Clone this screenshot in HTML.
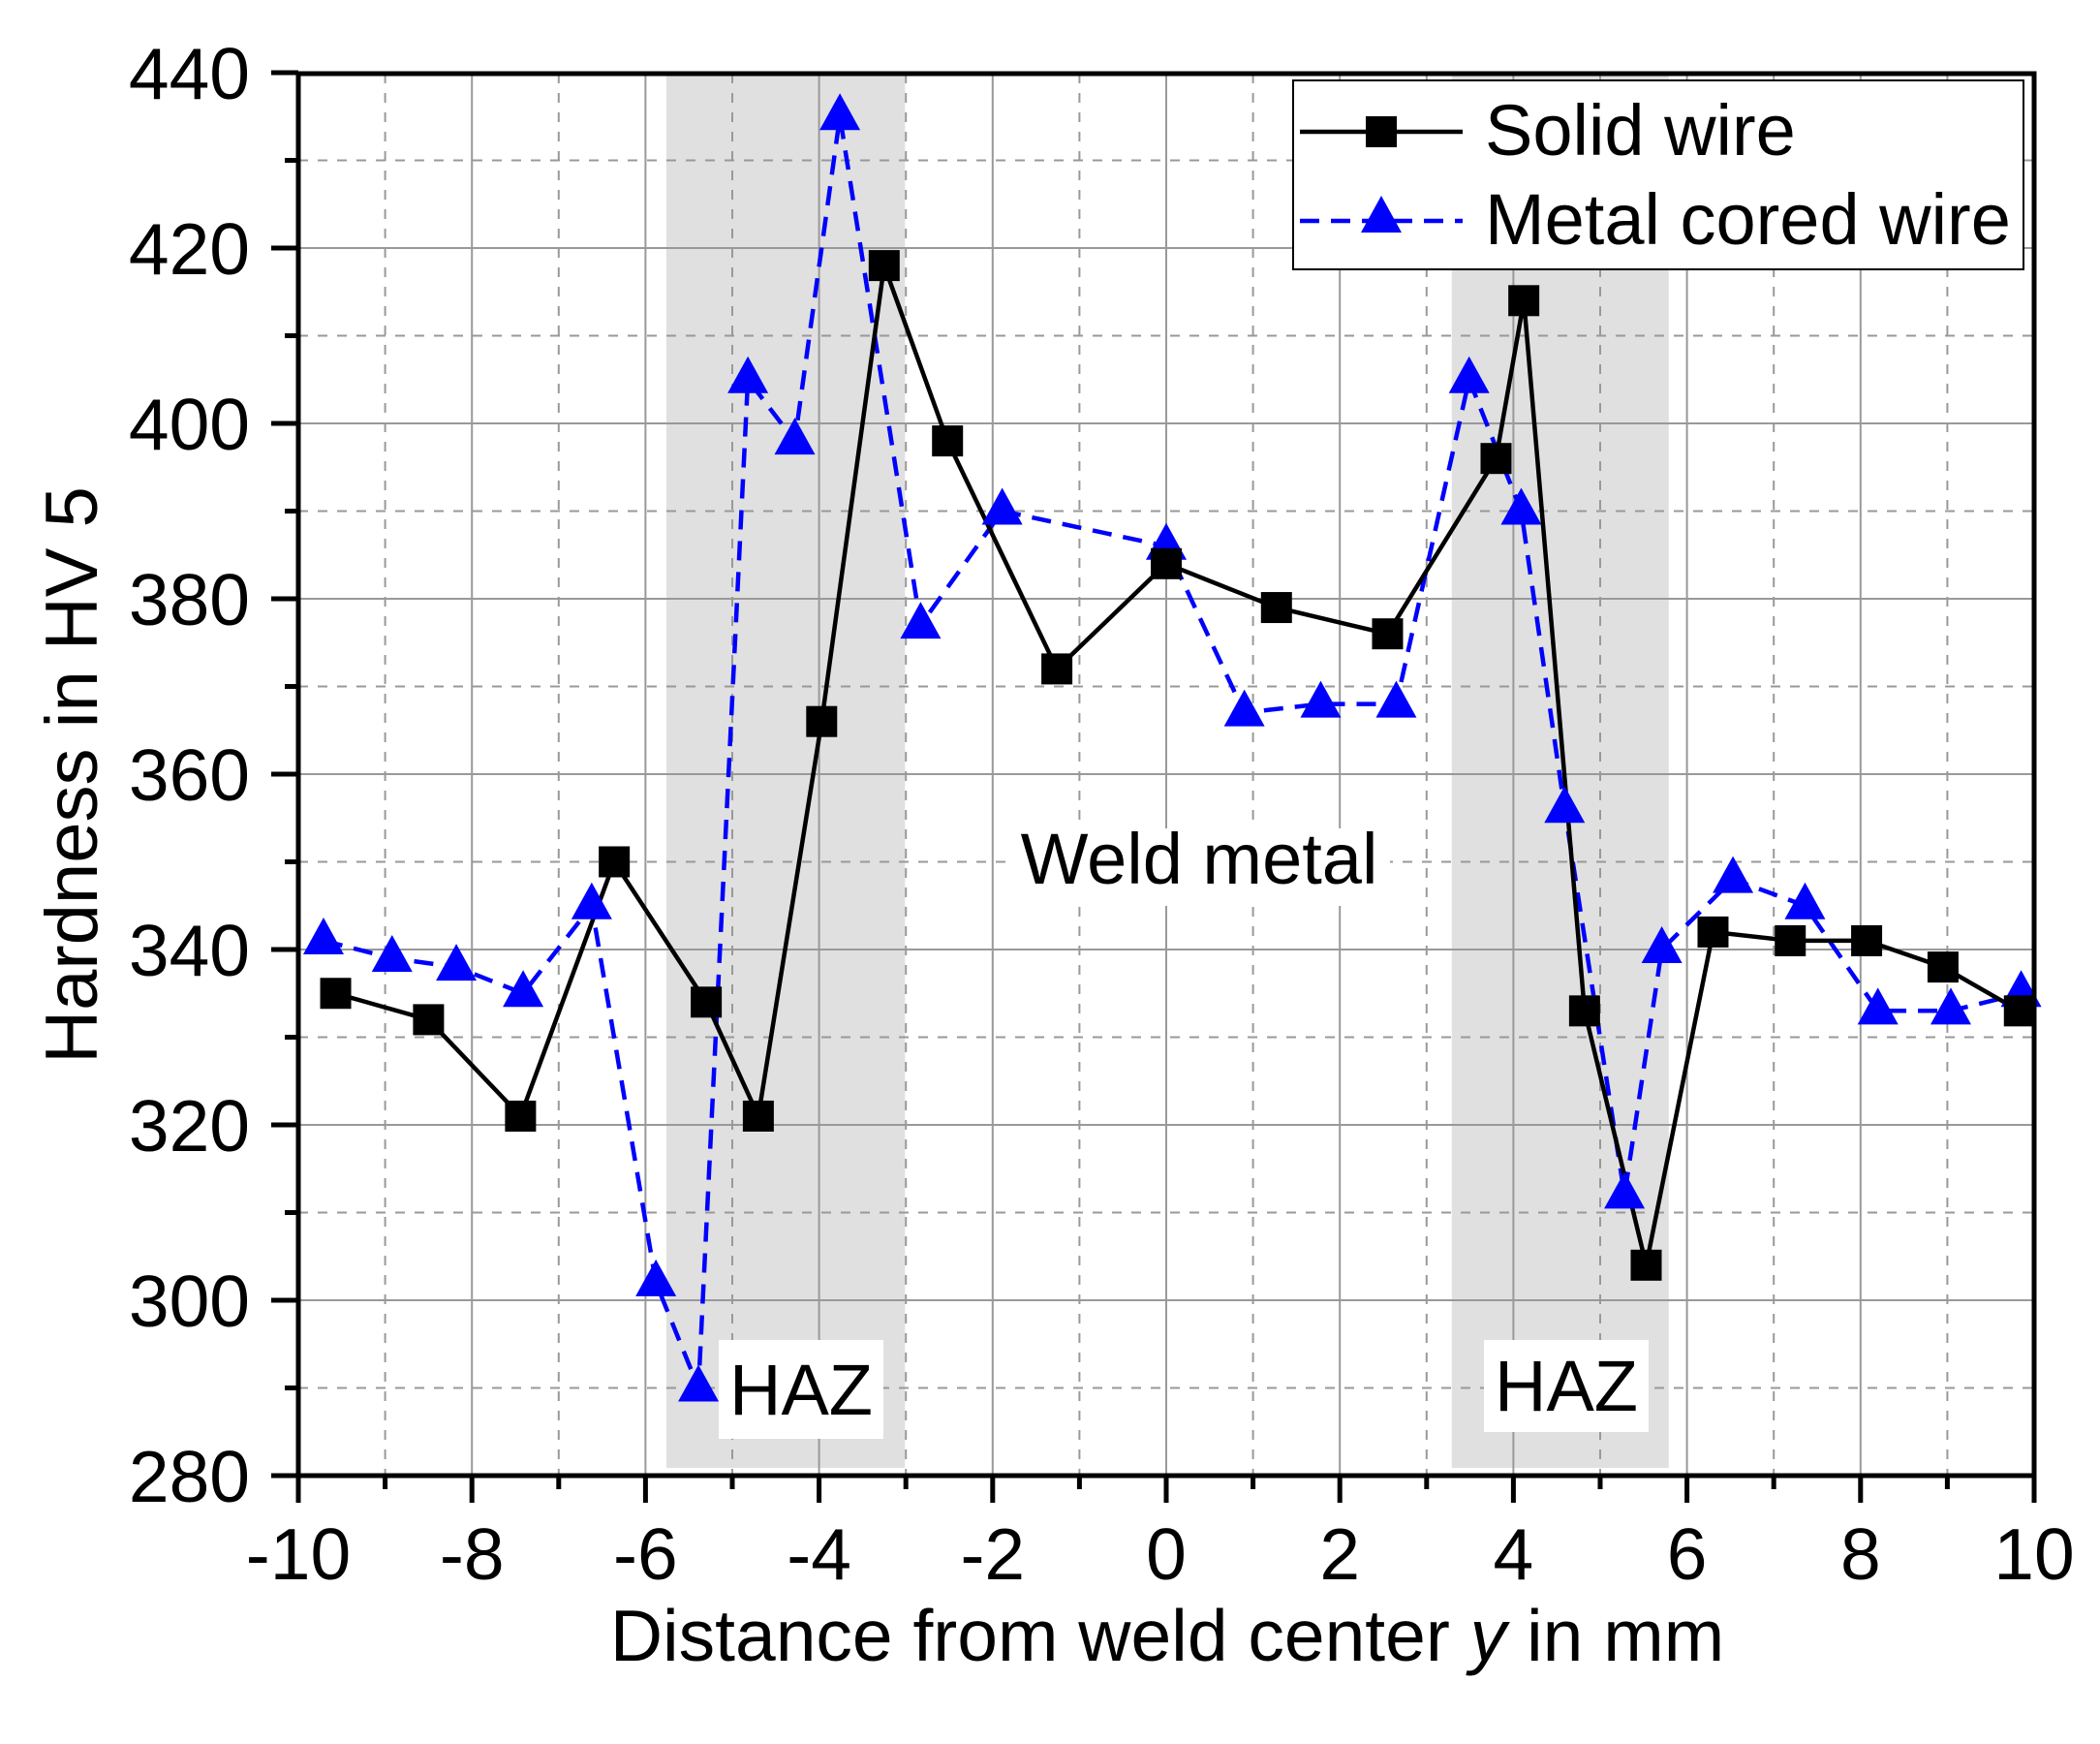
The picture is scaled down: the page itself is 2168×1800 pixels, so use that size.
<!DOCTYPE html>
<html><head><meta charset="utf-8"><style>
html,body{margin:0;padding:0;background:#fff;}
svg{display:block;font-family:"Liberation Sans",Arial,sans-serif;}
</style></head><body>
<svg id="s" width="2168" height="1800" viewBox="0 0 2168 1800" xmlns="http://www.w3.org/2000/svg">
<rect width="2168" height="1800" fill="#fff"/>
<g id="bands"></g>
<g id="grid"></g>
<rect x="1040" y="855" width="395" height="80" fill="#fff"/>
<g id="series"></g>
<text x="1238" y="912" font-size="74" text-anchor="middle">Weld metal</text>
<rect x="742" y="1383" width="170" height="102" fill="#fff"/>
<text x="827" y="1460" font-size="74" text-anchor="middle">HAZ</text>
<rect x="1532" y="1383" width="170" height="95" fill="#fff"/>
<text x="1617" y="1456" font-size="74" text-anchor="middle">HAZ</text>
<g id="axes"></g>
<g id="legend">
<rect x="1335" y="83" width="754" height="195" fill="#fff" stroke="#000" stroke-width="2"/>
<line x1="1342" y1="136" x2="1510" y2="136" stroke="#000" stroke-width="4.5"/>
<rect x="1410" y="120" width="32" height="32" fill="#000"/>
<text x="1533" y="160" font-size="74">Solid wire</text>
<line x1="1342" y1="228" x2="1510" y2="228" stroke="#0000ff" stroke-width="4.5" stroke-dasharray="20,12"/>
<polygon points="1426,202 1447,240 1405,240" fill="#0000ff"/>
<text x="1533" y="252" font-size="74">Metal cored wire</text>
</g>
<text x="1205" y="1714" font-size="75" text-anchor="middle">Distance from weld center <tspan font-style="italic">y</tspan> in mm</text>
<text transform="translate(100,800) rotate(-90)" font-size="76" text-anchor="middle">Hardness in HV 5</text>
</svg>
<script>
var X=function(u){return 308+(u+10)*89.6;};
var Y=function(v){return 1523-(v-280)*9.05;};
var NS="http://www.w3.org/2000/svg";
function el(p,t,a){var e=document.createElementNS(NS,t);for(var k in a)e.setAttribute(k,a[k]);document.getElementById(p).appendChild(e);return e;}
el("bands","rect",{x:X(-5.76),y:78,width:X(-3.01)-X(-5.76),height:1437,fill:"#e0e0e0"});
el("bands","rect",{x:X(3.29),y:78,width:X(5.79)-X(3.29),height:1437,fill:"#e0e0e0"});
for(var u=-9;u<10;u++){var maj=(u%2===0);
 el("grid","line",{x1:X(u),y1:76,x2:X(u),y2:1523,stroke:"#999",'stroke-width':2,'stroke-dasharray':maj?"":"10,10"});}
for(var v=290;v<440;v+=10){var maj=(v%20===0);
 el("grid","line",{x1:308,y1:Y(v),x2:2100,y2:Y(v),stroke:"#999",'stroke-width':2,'stroke-dasharray':maj?"":"10,10"});}
var sw=[[-9.57,335],[-8.5,332],[-7.44,321],[-6.36,350],[-5.3,334],[-4.7,321],[-3.97,366],[-3.25,418],[-2.52,398],[-1.26,372],[0,384],[1.27,379],[2.55,376],[3.8,396],[4.12,414],[4.82,333],[5.53,304],[6.3,342],[7.19,341],[8.07,341],[8.95,338],[9.83,333]];
var mc=[[-9.71,341],[-8.92,339],[-8.18,338],[-7.41,335],[-6.62,345],[-5.88,302],[-5.39,290],[-4.82,405],[-4.28,398],[-3.76,435],[-2.83,377],[-1.89,390],[0,386],[0.9,367],[1.78,368],[2.65,368],[3.49,405],[4.09,390],[4.59,356],[5.28,312],[5.71,340],[6.53,348],[7.36,345],[8.2,333],[9.04,333],[9.85,335]];
function pts(a){return a.map(function(p){return X(p[0]).toFixed(1)+","+Y(p[1]).toFixed(1);}).join(" ");}
el("series","polyline",{points:pts(mc),fill:"none",stroke:"#0000ff",'stroke-width':4.5,'stroke-dasharray':"20,12"});
el("series","polyline",{points:pts(sw),fill:"none",stroke:"#000",'stroke-width':4.5});
mc.forEach(function(p){var x=X(p[0]),y=Y(p[1]);
 el("series","polygon",{points:x+","+(y-24)+" "+(x+21)+","+(y+14)+" "+(x-21)+","+(y+14),fill:"#0000ff"});});
sw.forEach(function(p){el("series","rect",{x:X(p[0])-16,y:Y(p[1])-16,width:32,height:32,fill:"#000"});});
el("axes","rect",{x:308,y:76,width:1792,height:1447,fill:"none",stroke:"#000",'stroke-width':5});
for(var u=-10;u<=10;u++){var maj=(u%2===0);
 el("axes","line",{x1:X(u),y1:1523,x2:X(u),y2:1523+(maj?28:14),stroke:"#000",'stroke-width':5});
 if(maj){var t=el("axes","text",{x:X(u),y:1630,'font-size':75,'text-anchor':"middle"});t.textContent=u;}}
for(var v=280;v<=440;v+=10){var maj=(v%20===0);
 el("axes","line",{x1:308,y1:Y(v),x2:308-(maj?28:14),y2:Y(v),stroke:"#000",'stroke-width':5});
 if(maj){var t=el("axes","text",{x:258,y:Y(v)+27,'font-size':75,'text-anchor':"end"});t.textContent=v;}}
</script>
</body></html>
